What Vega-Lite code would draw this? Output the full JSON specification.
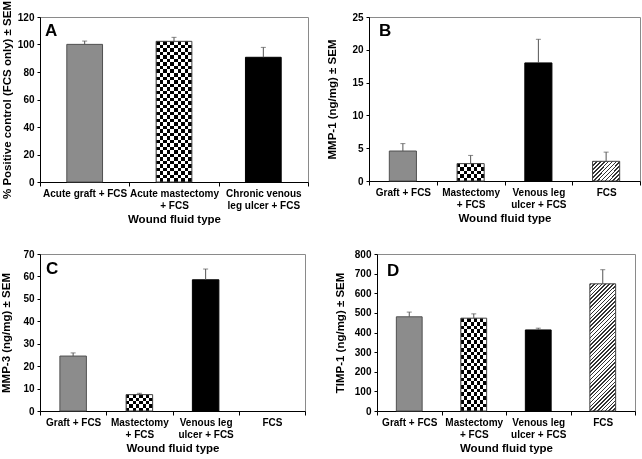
{
  "$schema": "https://vega.github.io/schema/vega-lite/v6.json",
  "padding": 0,
  "background": "white",
  "datasets": {
    "A": [
      {"cat": "Acute graft + FCS", "type": "graft", "value": 100.1, "hi": 102.5},
      {"cat": "Acute mastectomy\n+ FCS", "type": "mast", "value": 102.3, "hi": 105.2},
      {"cat": "Chronic venous\nleg ulcer + FCS", "type": "venous", "value": 90.7, "hi": 97.9}
    ],
    "B": [
      {"cat": "Graft + FCS", "type": "graft", "value": 4.57, "hi": 5.7},
      {"cat": "Mastectomy\n+ FCS", "type": "mast", "value": 2.65, "hi": 3.9},
      {"cat": "Venous leg\nulcer + FCS", "type": "venous", "value": 18.0, "hi": 21.6},
      {"cat": "FCS", "type": "fcs", "value": 3.0, "hi": 4.4}
    ],
    "C": [
      {"cat": "Graft + FCS", "type": "graft", "value": 24.5, "hi": 25.9},
      {"cat": "Mastectomy\n+ FCS", "type": "mast", "value": 7.3, "hi": 7.9},
      {"cat": "Venous leg\nulcer + FCS", "type": "venous", "value": 58.5, "hi": 63.3}
    ],
    "D": [
      {"cat": "Graft + FCS", "type": "graft", "value": 480, "hi": 504},
      {"cat": "Mastectomy\n+ FCS", "type": "mast", "value": 473, "hi": 495},
      {"cat": "Venous leg\nulcer + FCS", "type": "venous", "value": 413, "hi": 422},
      {"cat": "FCS", "type": "fcs", "value": 648, "hi": 720}
    ]
  },
  "spacing": 23,
  "vconcat": [
    {
      "spacing": 17,
      "hconcat": [
        {
          "width": 268, "height": 165,
          "data": {"name": "A"},
          "encoding": {
            "x": {"field": "cat", "type": "nominal", "sort": null,
              "scale": {"domain": ["Acute graft + FCS", "Acute mastectomy\n+ FCS", "Chronic venous\nleg ulcer + FCS"], "paddingInner": 0, "paddingOuter": 0},
              "axis": {"title": "Wound fluid type", "labelExpr": "split(datum.label, '\\n')"}},
            "y": {"field": "value", "type": "quantitative", "scale": {"domain": [0, 120], "nice": false},
              "axis": {"title": "% Positive control (FCS only) ± SEM", "values": [0, 20, 40, 60, 80, 100, 120], "titlePadding": 5}}
          },
          "layer": [
            {"transform": [{"filter": "datum.type == 'graft'"}], "mark": {"type": "bar", "width": {"band": 0.4}, "fill": "#8c8c8c", "stroke": "#505050", "strokeWidth": 1}},
            {"transform": [{"filter": "datum.type == 'venous'"}], "mark": {"type": "bar", "width": {"band": 0.4}, "fill": "#000000", "stroke": "#000000", "strokeWidth": 1}},
            {"transform": [{"filter": "datum.type == 'mast'"}], "mark": {"type": "bar", "width": {"band": 0.4}, "strokeWidth": 0,
              "fill": {"gradient": "linear", "x1": 0, "y1": 0, "x2": 1, "y2": 0, "stops": [
                {"offset": 0, "color": "#000"}, {"offset": 0.1, "color": "#000"}, {"offset": 0.1, "color": "#fff"}, {"offset": 0.2, "color": "#fff"},
                {"offset": 0.2, "color": "#000"}, {"offset": 0.3, "color": "#000"}, {"offset": 0.3, "color": "#fff"}, {"offset": 0.4, "color": "#fff"},
                {"offset": 0.4, "color": "#000"}, {"offset": 0.5, "color": "#000"}, {"offset": 0.5, "color": "#fff"}, {"offset": 0.6, "color": "#fff"},
                {"offset": 0.6, "color": "#000"}, {"offset": 0.7, "color": "#000"}, {"offset": 0.7, "color": "#fff"}, {"offset": 0.8, "color": "#fff"},
                {"offset": 0.8, "color": "#000"}, {"offset": 0.9, "color": "#000"}, {"offset": 0.9, "color": "#fff"}, {"offset": 1, "color": "#fff"}]}}},
            {"transform": [{"filter": "datum.type == 'mast'"}], "mark": {"type": "bar", "width": {"band": 0.4}, "strokeWidth": 0, "blend": "difference",
              "fill": {"gradient": "linear", "x1": 0, "y1": 0, "x2": 0, "y2": 1, "stops": [
                {"offset": 0, "color": "#000"}, {"offset": 0.025, "color": "#000"}, {"offset": 0.025, "color": "#fff"}, {"offset": 0.05, "color": "#fff"},
                {"offset": 0.05, "color": "#000"}, {"offset": 0.075, "color": "#000"}, {"offset": 0.075, "color": "#fff"}, {"offset": 0.1, "color": "#fff"},
                {"offset": 0.1, "color": "#000"}, {"offset": 0.125, "color": "#000"}, {"offset": 0.125, "color": "#fff"}, {"offset": 0.15, "color": "#fff"},
                {"offset": 0.15, "color": "#000"}, {"offset": 0.175, "color": "#000"}, {"offset": 0.175, "color": "#fff"}, {"offset": 0.2, "color": "#fff"},
                {"offset": 0.2, "color": "#000"}, {"offset": 0.225, "color": "#000"}, {"offset": 0.225, "color": "#fff"}, {"offset": 0.25, "color": "#fff"},
                {"offset": 0.25, "color": "#000"}, {"offset": 0.275, "color": "#000"}, {"offset": 0.275, "color": "#fff"}, {"offset": 0.3, "color": "#fff"},
                {"offset": 0.3, "color": "#000"}, {"offset": 0.325, "color": "#000"}, {"offset": 0.325, "color": "#fff"}, {"offset": 0.35, "color": "#fff"},
                {"offset": 0.35, "color": "#000"}, {"offset": 0.375, "color": "#000"}, {"offset": 0.375, "color": "#fff"}, {"offset": 0.4, "color": "#fff"},
                {"offset": 0.4, "color": "#000"}, {"offset": 0.425, "color": "#000"}, {"offset": 0.425, "color": "#fff"}, {"offset": 0.45, "color": "#fff"},
                {"offset": 0.45, "color": "#000"}, {"offset": 0.475, "color": "#000"}, {"offset": 0.475, "color": "#fff"}, {"offset": 0.5, "color": "#fff"},
                {"offset": 0.5, "color": "#000"}, {"offset": 0.525, "color": "#000"}, {"offset": 0.525, "color": "#fff"}, {"offset": 0.55, "color": "#fff"},
                {"offset": 0.55, "color": "#000"}, {"offset": 0.575, "color": "#000"}, {"offset": 0.575, "color": "#fff"}, {"offset": 0.6, "color": "#fff"},
                {"offset": 0.6, "color": "#000"}, {"offset": 0.625, "color": "#000"}, {"offset": 0.625, "color": "#fff"}, {"offset": 0.65, "color": "#fff"},
                {"offset": 0.65, "color": "#000"}, {"offset": 0.675, "color": "#000"}, {"offset": 0.675, "color": "#fff"}, {"offset": 0.7, "color": "#fff"},
                {"offset": 0.7, "color": "#000"}, {"offset": 0.725, "color": "#000"}, {"offset": 0.725, "color": "#fff"}, {"offset": 0.75, "color": "#fff"},
                {"offset": 0.75, "color": "#000"}, {"offset": 0.775, "color": "#000"}, {"offset": 0.775, "color": "#fff"}, {"offset": 0.8, "color": "#fff"},
                {"offset": 0.8, "color": "#000"}, {"offset": 0.825, "color": "#000"}, {"offset": 0.825, "color": "#fff"}, {"offset": 0.85, "color": "#fff"},
                {"offset": 0.85, "color": "#000"}, {"offset": 0.875, "color": "#000"}, {"offset": 0.875, "color": "#fff"}, {"offset": 0.9, "color": "#fff"},
                {"offset": 0.9, "color": "#000"}, {"offset": 0.925, "color": "#000"}, {"offset": 0.925, "color": "#fff"}, {"offset": 0.95, "color": "#fff"},
                {"offset": 0.95, "color": "#000"}, {"offset": 0.975, "color": "#000"}, {"offset": 0.975, "color": "#fff"}, {"offset": 1, "color": "#fff"}]}}},
            {"transform": [{"filter": "datum.type == 'mast'"}], "mark": {"type": "bar", "width": {"band": 0.4}, "fillOpacity": 0, "stroke": "#404040", "strokeWidth": 1}},
            {"mark": {"type": "rule", "color": "#555555", "strokeWidth": 1}, "encoding": {"y2": {"field": "hi"}}},
            {"mark": {"type": "tick", "color": "#555555", "size": 5, "thickness": 1},
              "encoding": {"y": {"field": "hi", "type": "quantitative", "axis": {"title": "% Positive control (FCS only) ± SEM", "values": [0, 20, 40, 60, 80, 100, 120], "titlePadding": 5}}}},
            {"transform": [{"filter": "datum.type == 'graft'"}], "mark": {"type": "text", "text": "A", "fontSize": 17, "fontWeight": "bold", "align": "left", "baseline": "alphabetic", "dx": 5, "fill": "#000000"},
              "encoding": {"x": {"field": "cat", "type": "nominal", "bandPosition": 0}, "y": {"datum": 106, "type": "quantitative"}}}
          ]
        },
        {
          "width": 271, "height": 164,
          "data": {"name": "B"},
          "encoding": {
            "x": {"field": "cat", "type": "nominal", "sort": null,
              "scale": {"domain": ["Graft + FCS", "Mastectomy\n+ FCS", "Venous leg\nulcer + FCS", "FCS"], "paddingInner": 0, "paddingOuter": 0},
              "axis": {"title": "Wound fluid type", "labelExpr": "split(datum.label, '\\n')"}},
            "y": {"field": "value", "type": "quantitative", "scale": {"domain": [0, 25], "nice": false},
              "axis": {"title": "MMP-1 (ng/mg) ± SEM", "values": [0, 5, 10, 15, 20, 25], "titlePadding": 14}}
          },
          "layer": [
            {"transform": [{"filter": "datum.type == 'graft'"}], "mark": {"type": "bar", "width": {"band": 0.4}, "fill": "#8c8c8c", "stroke": "#505050", "strokeWidth": 1}},
            {"transform": [{"filter": "datum.type == 'venous'"}], "mark": {"type": "bar", "width": {"band": 0.4}, "fill": "#000000", "stroke": "#000000", "strokeWidth": 1}},
            {"transform": [{"filter": "datum.type == 'mast'"}], "mark": {"type": "bar", "width": {"band": 0.4}, "strokeWidth": 0,
              "fill": {"gradient": "linear", "x1": 0, "y1": 0, "x2": 1, "y2": 0, "stops": [
                {"offset": 0, "color": "#000"}, {"offset": 0.125, "color": "#000"}, {"offset": 0.125, "color": "#fff"}, {"offset": 0.25, "color": "#fff"},
                {"offset": 0.25, "color": "#000"}, {"offset": 0.375, "color": "#000"}, {"offset": 0.375, "color": "#fff"}, {"offset": 0.5, "color": "#fff"},
                {"offset": 0.5, "color": "#000"}, {"offset": 0.625, "color": "#000"}, {"offset": 0.625, "color": "#fff"}, {"offset": 0.75, "color": "#fff"},
                {"offset": 0.75, "color": "#000"}, {"offset": 0.875, "color": "#000"}, {"offset": 0.875, "color": "#fff"}, {"offset": 1, "color": "#fff"}]}}},
            {"transform": [{"filter": "datum.type == 'mast'"}], "mark": {"type": "bar", "width": {"band": 0.4}, "strokeWidth": 0, "blend": "difference",
              "fill": {"gradient": "linear", "x1": 0, "y1": 0, "x2": 0, "y2": 1, "stops": [
                {"offset": 0, "color": "#000"}, {"offset": 0.2, "color": "#000"}, {"offset": 0.2, "color": "#fff"}, {"offset": 0.4, "color": "#fff"},
                {"offset": 0.4, "color": "#000"}, {"offset": 0.6, "color": "#000"}, {"offset": 0.6, "color": "#fff"}, {"offset": 0.8, "color": "#fff"},
                {"offset": 0.8, "color": "#000"}, {"offset": 1, "color": "#000"}]}}},
            {"transform": [{"filter": "datum.type == 'mast'"}], "mark": {"type": "bar", "width": {"band": 0.4}, "fillOpacity": 0, "stroke": "#404040", "strokeWidth": 1}},
            {"transform": [{"filter": "datum.type == 'fcs'"}], "mark": {"type": "bar", "width": {"band": 0.4}, "stroke": "#404040", "strokeWidth": 1,
              "fill": {"gradient": "linear", "x1": 0, "y1": 0, "x2": 1.137, "y2": 0.806, "stops": [
                {"offset": 0, "color": "#333"}, {"offset": 0.033, "color": "#333"}, {"offset": 0.033, "color": "#fff"}, {"offset": 0.0833, "color": "#fff"},
                {"offset": 0.0833, "color": "#333"}, {"offset": 0.1163, "color": "#333"}, {"offset": 0.1163, "color": "#fff"}, {"offset": 0.1667, "color": "#fff"},
                {"offset": 0.1667, "color": "#333"}, {"offset": 0.2, "color": "#333"}, {"offset": 0.2, "color": "#fff"}, {"offset": 0.25, "color": "#fff"},
                {"offset": 0.25, "color": "#333"}, {"offset": 0.283, "color": "#333"}, {"offset": 0.283, "color": "#fff"}, {"offset": 0.3333, "color": "#fff"},
                {"offset": 0.3333, "color": "#333"}, {"offset": 0.3663, "color": "#333"}, {"offset": 0.3663, "color": "#fff"}, {"offset": 0.4167, "color": "#fff"},
                {"offset": 0.4167, "color": "#333"}, {"offset": 0.45, "color": "#333"}, {"offset": 0.45, "color": "#fff"}, {"offset": 0.5, "color": "#fff"},
                {"offset": 0.5, "color": "#333"}, {"offset": 0.533, "color": "#333"}, {"offset": 0.533, "color": "#fff"}, {"offset": 0.5833, "color": "#fff"},
                {"offset": 0.5833, "color": "#333"}, {"offset": 0.6163, "color": "#333"}, {"offset": 0.6163, "color": "#fff"}, {"offset": 0.6667, "color": "#fff"},
                {"offset": 0.6667, "color": "#333"}, {"offset": 0.7, "color": "#333"}, {"offset": 0.7, "color": "#fff"}, {"offset": 0.75, "color": "#fff"},
                {"offset": 0.75, "color": "#333"}, {"offset": 0.783, "color": "#333"}, {"offset": 0.783, "color": "#fff"}, {"offset": 0.8333, "color": "#fff"},
                {"offset": 0.8333, "color": "#333"}, {"offset": 0.8663, "color": "#333"}, {"offset": 0.8663, "color": "#fff"}, {"offset": 0.9167, "color": "#fff"},
                {"offset": 0.9167, "color": "#333"}, {"offset": 0.95, "color": "#333"}, {"offset": 0.95, "color": "#fff"}, {"offset": 1, "color": "#fff"}]}}},
            {"mark": {"type": "rule", "color": "#555555", "strokeWidth": 1}, "encoding": {"y2": {"field": "hi"}}},
            {"mark": {"type": "tick", "color": "#555555", "size": 5, "thickness": 1},
              "encoding": {"y": {"field": "hi", "type": "quantitative", "axis": {"title": "MMP-1 (ng/mg) ± SEM", "values": [0, 5, 10, 15, 20, 25], "titlePadding": 14}}}},
            {"transform": [{"filter": "datum.type == 'graft'"}], "mark": {"type": "text", "text": "B", "fontSize": 17, "fontWeight": "bold", "align": "left", "baseline": "alphabetic", "dx": 10, "fill": "#000000"},
              "encoding": {"x": {"field": "cat", "type": "nominal", "bandPosition": 0}, "y": {"datum": 22.1, "type": "quantitative"}}}
          ]
        }
      ]
    },
    {
      "spacing": 27,
      "hconcat": [
        {
          "width": 265, "height": 157,
          "data": {"name": "C"},
          "encoding": {
            "x": {"field": "cat", "type": "nominal", "sort": null,
              "scale": {"domain": ["Graft + FCS", "Mastectomy\n+ FCS", "Venous leg\nulcer + FCS", "FCS"], "paddingInner": 0, "paddingOuter": 0},
              "axis": {"title": "Wound fluid type", "labelExpr": "split(datum.label, '\\n')"}},
            "y": {"field": "value", "type": "quantitative", "scale": {"domain": [0, 70], "nice": false},
              "axis": {"title": "MMP-3 (ng/mg) ± SEM", "values": [0, 10, 20, 30, 40, 50, 60, 70], "titlePadding": 11}}
          },
          "layer": [
            {"transform": [{"filter": "datum.type == 'graft'"}], "mark": {"type": "bar", "width": {"band": 0.4}, "fill": "#8c8c8c", "stroke": "#505050", "strokeWidth": 1}},
            {"transform": [{"filter": "datum.type == 'venous'"}], "mark": {"type": "bar", "width": {"band": 0.4}, "fill": "#000000", "stroke": "#000000", "strokeWidth": 1}},
            {"transform": [{"filter": "datum.type == 'mast'"}], "mark": {"type": "bar", "width": {"band": 0.4}, "strokeWidth": 0,
              "fill": {"gradient": "linear", "x1": 0, "y1": 0, "x2": 1, "y2": 0, "stops": [
                {"offset": 0, "color": "#000"}, {"offset": 0.125, "color": "#000"}, {"offset": 0.125, "color": "#fff"}, {"offset": 0.25, "color": "#fff"},
                {"offset": 0.25, "color": "#000"}, {"offset": 0.375, "color": "#000"}, {"offset": 0.375, "color": "#fff"}, {"offset": 0.5, "color": "#fff"},
                {"offset": 0.5, "color": "#000"}, {"offset": 0.625, "color": "#000"}, {"offset": 0.625, "color": "#fff"}, {"offset": 0.75, "color": "#fff"},
                {"offset": 0.75, "color": "#000"}, {"offset": 0.875, "color": "#000"}, {"offset": 0.875, "color": "#fff"}, {"offset": 1, "color": "#fff"}]}}},
            {"transform": [{"filter": "datum.type == 'mast'"}], "mark": {"type": "bar", "width": {"band": 0.4}, "strokeWidth": 0, "blend": "difference",
              "fill": {"gradient": "linear", "x1": 0, "y1": 0, "x2": 0, "y2": 1, "stops": [
                {"offset": 0, "color": "#000"}, {"offset": 0.2, "color": "#000"}, {"offset": 0.2, "color": "#fff"}, {"offset": 0.4, "color": "#fff"},
                {"offset": 0.4, "color": "#000"}, {"offset": 0.6, "color": "#000"}, {"offset": 0.6, "color": "#fff"}, {"offset": 0.8, "color": "#fff"},
                {"offset": 0.8, "color": "#000"}, {"offset": 1, "color": "#000"}]}}},
            {"transform": [{"filter": "datum.type == 'mast'"}], "mark": {"type": "bar", "width": {"band": 0.4}, "fillOpacity": 0, "stroke": "#404040", "strokeWidth": 1}},
            {"mark": {"type": "rule", "color": "#555555", "strokeWidth": 1}, "encoding": {"y2": {"field": "hi"}}},
            {"mark": {"type": "tick", "color": "#555555", "size": 5, "thickness": 1},
              "encoding": {"y": {"field": "hi", "type": "quantitative", "axis": {"title": "MMP-3 (ng/mg) ± SEM", "values": [0, 10, 20, 30, 40, 50, 60, 70], "titlePadding": 11}}}},
            {"transform": [{"filter": "datum.type == 'graft'"}], "mark": {"type": "text", "text": "C", "fontSize": 17, "fontWeight": "bold", "align": "left", "baseline": "alphabetic", "dx": 6, "fill": "#000000"},
              "encoding": {"x": {"field": "cat", "type": "nominal", "bandPosition": 0}, "y": {"datum": 61, "type": "quantitative"}}}
          ]
        },
        {
          "width": 258, "height": 157,
          "data": {"name": "D"},
          "encoding": {
            "x": {"field": "cat", "type": "nominal", "sort": null,
              "scale": {"domain": ["Graft + FCS", "Mastectomy\n+ FCS", "Venous leg\nulcer + FCS", "FCS"], "paddingInner": 0, "paddingOuter": 0},
              "axis": {"title": "Wound fluid type", "labelExpr": "split(datum.label, '\\n')"}},
            "y": {"field": "value", "type": "quantitative", "scale": {"domain": [0, 800], "nice": false},
              "axis": {"title": "TIMP-1 (ng/mg) ± SEM", "values": [0, 100, 200, 300, 400, 500, 600, 700, 800], "titlePadding": 9}}
          },
          "layer": [
            {"transform": [{"filter": "datum.type == 'graft'"}], "mark": {"type": "bar", "width": {"band": 0.4}, "fill": "#8c8c8c", "stroke": "#505050", "strokeWidth": 1}},
            {"transform": [{"filter": "datum.type == 'venous'"}], "mark": {"type": "bar", "width": {"band": 0.4}, "fill": "#000000", "stroke": "#000000", "strokeWidth": 1}},
            {"transform": [{"filter": "datum.type == 'mast'"}], "mark": {"type": "bar", "width": {"band": 0.4}, "strokeWidth": 0,
              "fill": {"gradient": "linear", "x1": 0, "y1": 0, "x2": 1, "y2": 0, "stops": [
                {"offset": 0, "color": "#000"}, {"offset": 0.125, "color": "#000"}, {"offset": 0.125, "color": "#fff"}, {"offset": 0.25, "color": "#fff"},
                {"offset": 0.25, "color": "#000"}, {"offset": 0.375, "color": "#000"}, {"offset": 0.375, "color": "#fff"}, {"offset": 0.5, "color": "#fff"},
                {"offset": 0.5, "color": "#000"}, {"offset": 0.625, "color": "#000"}, {"offset": 0.625, "color": "#fff"}, {"offset": 0.75, "color": "#fff"},
                {"offset": 0.75, "color": "#000"}, {"offset": 0.875, "color": "#000"}, {"offset": 0.875, "color": "#fff"}, {"offset": 1, "color": "#fff"}]}}},
            {"transform": [{"filter": "datum.type == 'mast'"}], "mark": {"type": "bar", "width": {"band": 0.4}, "strokeWidth": 0, "blend": "difference",
              "fill": {"gradient": "linear", "x1": 0, "y1": 0, "x2": 0, "y2": 1, "stops": [
                {"offset": 0, "color": "#000"}, {"offset": 0.04, "color": "#000"}, {"offset": 0.04, "color": "#fff"}, {"offset": 0.08, "color": "#fff"},
                {"offset": 0.08, "color": "#000"}, {"offset": 0.12, "color": "#000"}, {"offset": 0.12, "color": "#fff"}, {"offset": 0.16, "color": "#fff"},
                {"offset": 0.16, "color": "#000"}, {"offset": 0.2, "color": "#000"}, {"offset": 0.2, "color": "#fff"}, {"offset": 0.24, "color": "#fff"},
                {"offset": 0.24, "color": "#000"}, {"offset": 0.28, "color": "#000"}, {"offset": 0.28, "color": "#fff"}, {"offset": 0.32, "color": "#fff"},
                {"offset": 0.32, "color": "#000"}, {"offset": 0.36, "color": "#000"}, {"offset": 0.36, "color": "#fff"}, {"offset": 0.4, "color": "#fff"},
                {"offset": 0.4, "color": "#000"}, {"offset": 0.44, "color": "#000"}, {"offset": 0.44, "color": "#fff"}, {"offset": 0.48, "color": "#fff"},
                {"offset": 0.48, "color": "#000"}, {"offset": 0.52, "color": "#000"}, {"offset": 0.52, "color": "#fff"}, {"offset": 0.56, "color": "#fff"},
                {"offset": 0.56, "color": "#000"}, {"offset": 0.6, "color": "#000"}, {"offset": 0.6, "color": "#fff"}, {"offset": 0.64, "color": "#fff"},
                {"offset": 0.64, "color": "#000"}, {"offset": 0.68, "color": "#000"}, {"offset": 0.68, "color": "#fff"}, {"offset": 0.72, "color": "#fff"},
                {"offset": 0.72, "color": "#000"}, {"offset": 0.76, "color": "#000"}, {"offset": 0.76, "color": "#fff"}, {"offset": 0.8, "color": "#fff"},
                {"offset": 0.8, "color": "#000"}, {"offset": 0.84, "color": "#000"}, {"offset": 0.84, "color": "#fff"}, {"offset": 0.88, "color": "#fff"},
                {"offset": 0.88, "color": "#000"}, {"offset": 0.92, "color": "#000"}, {"offset": 0.92, "color": "#fff"}, {"offset": 0.96, "color": "#fff"},
                {"offset": 0.96, "color": "#000"}, {"offset": 1, "color": "#000"}]}}},
            {"transform": [{"filter": "datum.type == 'mast'"}], "mark": {"type": "bar", "width": {"band": 0.4}, "fillOpacity": 0, "stroke": "#404040", "strokeWidth": 1}},
            {"transform": [{"filter": "datum.type == 'fcs'"}], "mark": {"type": "bar", "width": {"band": 0.4}, "stroke": "#404040", "strokeWidth": 1,
              "fill": {"gradient": "linear", "x1": 0, "y1": 0, "x2": 0.234, "y2": 1.155, "stops": [
                {"offset": 0, "color": "#333"}, {"offset": 0.01, "color": "#333"}, {"offset": 0.01, "color": "#fff"}, {"offset": 0.025, "color": "#fff"},
                {"offset": 0.025, "color": "#333"}, {"offset": 0.035, "color": "#333"}, {"offset": 0.035, "color": "#fff"}, {"offset": 0.05, "color": "#fff"},
                {"offset": 0.05, "color": "#333"}, {"offset": 0.06, "color": "#333"}, {"offset": 0.06, "color": "#fff"}, {"offset": 0.075, "color": "#fff"},
                {"offset": 0.075, "color": "#333"}, {"offset": 0.085, "color": "#333"}, {"offset": 0.085, "color": "#fff"}, {"offset": 0.1, "color": "#fff"},
                {"offset": 0.1, "color": "#333"}, {"offset": 0.11, "color": "#333"}, {"offset": 0.11, "color": "#fff"}, {"offset": 0.125, "color": "#fff"},
                {"offset": 0.125, "color": "#333"}, {"offset": 0.135, "color": "#333"}, {"offset": 0.135, "color": "#fff"}, {"offset": 0.15, "color": "#fff"},
                {"offset": 0.15, "color": "#333"}, {"offset": 0.16, "color": "#333"}, {"offset": 0.16, "color": "#fff"}, {"offset": 0.175, "color": "#fff"},
                {"offset": 0.175, "color": "#333"}, {"offset": 0.185, "color": "#333"}, {"offset": 0.185, "color": "#fff"}, {"offset": 0.2, "color": "#fff"},
                {"offset": 0.2, "color": "#333"}, {"offset": 0.21, "color": "#333"}, {"offset": 0.21, "color": "#fff"}, {"offset": 0.225, "color": "#fff"},
                {"offset": 0.225, "color": "#333"}, {"offset": 0.235, "color": "#333"}, {"offset": 0.235, "color": "#fff"}, {"offset": 0.25, "color": "#fff"},
                {"offset": 0.25, "color": "#333"}, {"offset": 0.26, "color": "#333"}, {"offset": 0.26, "color": "#fff"}, {"offset": 0.275, "color": "#fff"},
                {"offset": 0.275, "color": "#333"}, {"offset": 0.285, "color": "#333"}, {"offset": 0.285, "color": "#fff"}, {"offset": 0.3, "color": "#fff"},
                {"offset": 0.3, "color": "#333"}, {"offset": 0.31, "color": "#333"}, {"offset": 0.31, "color": "#fff"}, {"offset": 0.325, "color": "#fff"},
                {"offset": 0.325, "color": "#333"}, {"offset": 0.335, "color": "#333"}, {"offset": 0.335, "color": "#fff"}, {"offset": 0.35, "color": "#fff"},
                {"offset": 0.35, "color": "#333"}, {"offset": 0.36, "color": "#333"}, {"offset": 0.36, "color": "#fff"}, {"offset": 0.375, "color": "#fff"},
                {"offset": 0.375, "color": "#333"}, {"offset": 0.385, "color": "#333"}, {"offset": 0.385, "color": "#fff"}, {"offset": 0.4, "color": "#fff"},
                {"offset": 0.4, "color": "#333"}, {"offset": 0.41, "color": "#333"}, {"offset": 0.41, "color": "#fff"}, {"offset": 0.425, "color": "#fff"},
                {"offset": 0.425, "color": "#333"}, {"offset": 0.435, "color": "#333"}, {"offset": 0.435, "color": "#fff"}, {"offset": 0.45, "color": "#fff"},
                {"offset": 0.45, "color": "#333"}, {"offset": 0.46, "color": "#333"}, {"offset": 0.46, "color": "#fff"}, {"offset": 0.475, "color": "#fff"},
                {"offset": 0.475, "color": "#333"}, {"offset": 0.485, "color": "#333"}, {"offset": 0.485, "color": "#fff"}, {"offset": 0.5, "color": "#fff"},
                {"offset": 0.5, "color": "#333"}, {"offset": 0.51, "color": "#333"}, {"offset": 0.51, "color": "#fff"}, {"offset": 0.525, "color": "#fff"},
                {"offset": 0.525, "color": "#333"}, {"offset": 0.535, "color": "#333"}, {"offset": 0.535, "color": "#fff"}, {"offset": 0.55, "color": "#fff"},
                {"offset": 0.55, "color": "#333"}, {"offset": 0.56, "color": "#333"}, {"offset": 0.56, "color": "#fff"}, {"offset": 0.575, "color": "#fff"},
                {"offset": 0.575, "color": "#333"}, {"offset": 0.585, "color": "#333"}, {"offset": 0.585, "color": "#fff"}, {"offset": 0.6, "color": "#fff"},
                {"offset": 0.6, "color": "#333"}, {"offset": 0.61, "color": "#333"}, {"offset": 0.61, "color": "#fff"}, {"offset": 0.625, "color": "#fff"},
                {"offset": 0.625, "color": "#333"}, {"offset": 0.635, "color": "#333"}, {"offset": 0.635, "color": "#fff"}, {"offset": 0.65, "color": "#fff"},
                {"offset": 0.65, "color": "#333"}, {"offset": 0.66, "color": "#333"}, {"offset": 0.66, "color": "#fff"}, {"offset": 0.675, "color": "#fff"},
                {"offset": 0.675, "color": "#333"}, {"offset": 0.685, "color": "#333"}, {"offset": 0.685, "color": "#fff"}, {"offset": 0.7, "color": "#fff"},
                {"offset": 0.7, "color": "#333"}, {"offset": 0.71, "color": "#333"}, {"offset": 0.71, "color": "#fff"}, {"offset": 0.725, "color": "#fff"},
                {"offset": 0.725, "color": "#333"}, {"offset": 0.735, "color": "#333"}, {"offset": 0.735, "color": "#fff"}, {"offset": 0.75, "color": "#fff"},
                {"offset": 0.75, "color": "#333"}, {"offset": 0.76, "color": "#333"}, {"offset": 0.76, "color": "#fff"}, {"offset": 0.775, "color": "#fff"},
                {"offset": 0.775, "color": "#333"}, {"offset": 0.785, "color": "#333"}, {"offset": 0.785, "color": "#fff"}, {"offset": 0.8, "color": "#fff"},
                {"offset": 0.8, "color": "#333"}, {"offset": 0.81, "color": "#333"}, {"offset": 0.81, "color": "#fff"}, {"offset": 0.825, "color": "#fff"},
                {"offset": 0.825, "color": "#333"}, {"offset": 0.835, "color": "#333"}, {"offset": 0.835, "color": "#fff"}, {"offset": 0.85, "color": "#fff"},
                {"offset": 0.85, "color": "#333"}, {"offset": 0.86, "color": "#333"}, {"offset": 0.86, "color": "#fff"}, {"offset": 0.875, "color": "#fff"},
                {"offset": 0.875, "color": "#333"}, {"offset": 0.885, "color": "#333"}, {"offset": 0.885, "color": "#fff"}, {"offset": 0.9, "color": "#fff"},
                {"offset": 0.9, "color": "#333"}, {"offset": 0.91, "color": "#333"}, {"offset": 0.91, "color": "#fff"}, {"offset": 0.925, "color": "#fff"},
                {"offset": 0.925, "color": "#333"}, {"offset": 0.935, "color": "#333"}, {"offset": 0.935, "color": "#fff"}, {"offset": 0.95, "color": "#fff"},
                {"offset": 0.95, "color": "#333"}, {"offset": 0.96, "color": "#333"}, {"offset": 0.96, "color": "#fff"}, {"offset": 0.975, "color": "#fff"},
                {"offset": 0.975, "color": "#333"}, {"offset": 0.985, "color": "#333"}, {"offset": 0.985, "color": "#fff"}, {"offset": 1, "color": "#fff"}]}}},
            {"mark": {"type": "rule", "color": "#555555", "strokeWidth": 1}, "encoding": {"y2": {"field": "hi"}}},
            {"mark": {"type": "tick", "color": "#555555", "size": 5, "thickness": 1},
              "encoding": {"y": {"field": "hi", "type": "quantitative", "axis": {"title": "TIMP-1 (ng/mg) ± SEM", "values": [0, 100, 200, 300, 400, 500, 600, 700, 800], "titlePadding": 9}}}},
            {"transform": [{"filter": "datum.type == 'graft'"}], "mark": {"type": "text", "text": "D", "fontSize": 17, "fontWeight": "bold", "align": "left", "baseline": "alphabetic", "dx": 10, "fill": "#000000"},
              "encoding": {"x": {"field": "cat", "type": "nominal", "bandPosition": 0}, "y": {"datum": 690, "type": "quantitative"}}}
          ]
        }
      ]
    }
  ],
  "config": {
    "font": "Liberation Sans",
    "view": {"stroke": "#8a8a8a", "strokeWidth": 1},
    "axis": {
      "labelFont": "Liberation Sans", "labelFontSize": 10, "labelFontWeight": "bold", "labelColor": "#000000",
      "titleFont": "Liberation Sans", "titleFontSize": 11.5, "titleFontWeight": "bold", "titleColor": "#000000",
      "domainColor": "#000000", "tickColor": "#000000", "grid": false
    },
    "axisX": {"tickBand": "extent", "labelAngle": 0, "tickSize": 4, "labelPadding": 2, "labelLineHeight": 12, "titlePadding": 3},
    "axisY": {"tickSize": 3, "labelPadding": 3}
  }
}
